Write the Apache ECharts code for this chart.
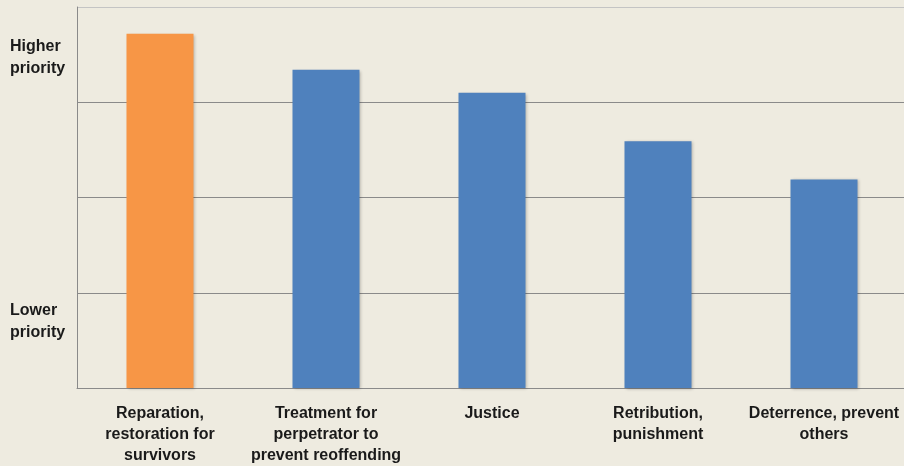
<!DOCTYPE html>
<html>
<head>
<meta charset="utf-8">
<script src="https://cdn.jsdelivr.net/npm/echarts@6/dist/echarts.min.js"></script>
<style>
html,body{margin:0;padding:0;background:#EEEBE0;overflow:hidden;width:904px;height:466px;}
#chart{width:908px;height:466px;}
</style>
</head>
<body>
<div id="chart"></div>
<script>
var categories = [
  'Reparation,\nrestoration for\nsurvivors',
  'Treatment for\nperpetrator to\nprevent reoffending',
  'Justice',
  'Retribution,\npunishment',
  'Deterrence, prevent\nothers'
];
var priorityValues = [3.72, 3.34, 3.10, 2.59, 2.19];
var barColors = ['#F79646', '#4F81BD', '#4F81BD', '#4F81BD', '#4F81BD'];
var yLabels = ['Higher\npriority', 'Lower\npriority'];

var chart = echarts.init(document.getElementById('chart'));
var fontFamily = '"Liberation Sans", Arial, sans-serif';

chart.setOption({
  backgroundColor: '#EEEBE0',
  animation: false,
  grid: {left: 77, right: 1, top: 7, bottom: 77, containLabel: false},
  xAxis: {
    type: 'category',
    data: categories,
    axisLine: {show: true, lineStyle: {color: '#8a8a8a', width: 1}},
    axisTick: {show: false},
    axisLabel: {
      interval: 0,
      margin: 15,
      lineHeight: 21,
      align: 'center',
      fontFamily: fontFamily,
      fontWeight: 'bold',
      fontSize: 16,
      color: '#1a1a1a'
    }
  },
  yAxis: {
    type: 'value',
    min: 0,
    max: 4,
    interval: 1,
    axisLine: {show: true, lineStyle: {color: '#8a8a8a', width: 1}},
    axisTick: {show: false},
    axisLabel: {show: false},
    splitLine: {show: true, lineStyle: {color: ['#8a8a8a', '#8a8a8a', '#8a8a8a', '#8a8a8a', '#c4c4c4'], width: 1}}
  },
  series: [{
    type: 'bar',
    barWidth: 67,
    data: priorityValues.map(function (v, i) {
      return {value: v, itemStyle: {color: barColors[i]}};
    }),
    itemStyle: {
      shadowBlur: 3,
      shadowColor: 'rgba(0,0,0,0.25)',
      shadowOffsetX: 1,
      shadowOffsetY: 1
    }
  }],
  graphic: [
    {type: 'text', left: 10, top: 36, style: {text: yLabels[0], font: 'bold 16px ' + fontFamily, fill: '#1a1a1a', lineHeight: 22}},
    {type: 'text', left: 10, top: 300, style: {text: yLabels[1], font: 'bold 16px ' + fontFamily, fill: '#1a1a1a', lineHeight: 22}}
  ]
});
</script>
</body>
</html>
